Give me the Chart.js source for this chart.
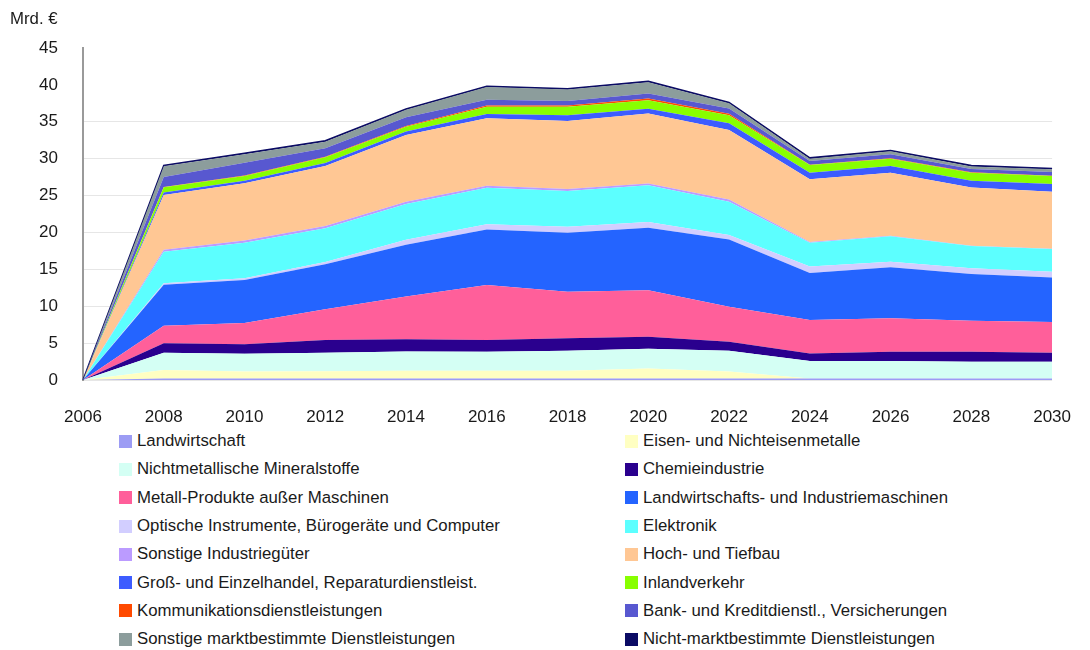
<!DOCTYPE html>
<html>
<head>
<meta charset="utf-8">
<script src="https://cdn.jsdelivr.net/npm/chart.js@4.4.1/dist/chart.umd.min.js"></script>
<style>
  body { margin: 0; background: #fff; font-family: "Liberation Sans", Arial, sans-serif; }
  #wrap { position: relative; width: 1090px; height: 650px; }
  #box { position: absolute; left: 0; top: 0; width: 1090px; height: 425px; }
  #legend { position: absolute; left: 119px; top: 427px; display: grid;
            grid-template-columns: 506px 440px; grid-auto-rows: 28.3px; }
  .item { display: flex; align-items: center; font-size: 16.8px; color: #1a1a1a; white-space: nowrap; }
  .sw { width: 13px; height: 13px; margin-right: 5px; flex: none; }
</style>
</head>
<body>
<div id="wrap">
  <div id="box"><canvas id="myChart"></canvas></div>
  <div id="legend"></div>
</div>
<script>
// Jahre
const years = ['2006','2008','2010','2012','2014','2016','2018','2020','2022','2024','2026','2028','2030'];

// Werte in Mrd. € je Sektor (gestapelt, von unten nach oben)
const landwirtschaft = [0, 0.2, 0.2, 0.2, 0.2, 0.2, 0.2, 0.2, 0.2, 0.2, 0.2, 0.2, 0.2];
const eisen          = [0, 1.15, 0.95, 1.0, 1.05, 1.07, 1.07, 1.35, 0.95, 0, 0, 0, 0];
const nichtmetall    = [0, 2.35, 2.4, 2.5, 2.6, 2.57, 2.7, 2.7, 2.8, 2.37, 2.37, 2.28, 2.28];
const chemie         = [0, 1.27, 1.3, 1.72, 1.67, 1.58, 1.68, 1.6, 1.23, 1.03, 1.27, 1.36, 1.22];
const metall         = [0, 2.39, 2.87, 4.16, 5.8, 7.46, 6.32, 6.32, 4.74, 4.53, 4.52, 4.2, 4.16];
const maschinen      = [0, 5.54, 5.83, 6.12, 7.0, 7.52, 8.0, 8.45, 9.13, 6.37, 6.91, 6.33, 6.04];
const optische       = [0, 0.2, 0.25, 0.3, 0.7, 0.7, 0.8, 0.8, 0.6, 0.9, 0.77, 0.77, 0.78];
const elektronik     = [0, 4.3, 4.8, 4.56, 4.85, 4.97, 4.86, 4.97, 4.52, 3.2, 3.46, 3.02, 3.07];
const sonstInd       = [0, 0.25, 0.3, 0.3, 0.3, 0.25, 0.25, 0.25, 0.3, 0.1, 0.05, 0.05, 0.05];
const hochbau        = [0, 7.42, 7.76, 8.14, 9.05, 9.15, 9.24, 9.47, 9.43, 8.5, 8.55, 7.89, 7.7];
const handel         = [0, 0.35, 0.35, 0.4, 0.45, 0.58, 0.75, 0.65, 0.9, 0.9, 0.9, 0.9, 1.06];
const verkehr        = [0, 0.7, 0.65, 0.8, 0.65, 1.0, 1.15, 1.15, 1.1, 1.04, 1.0, 1.1, 1.09];
const kommunikation  = [0, 0.05, 0.05, 0.05, 0.1, 0.15, 0.2, 0.25, 0.2, 0.05, 0.05, 0.05, 0.05];
const bank           = [0, 1.35, 1.75, 1.15, 1.2, 0.8, 0.6, 0.66, 0.7, 0.5, 0.55, 0.45, 0.5];
const sonstMarkt     = [0, 1.45, 1.15, 0.9, 1.0, 1.7, 1.54, 1.54, 0.7, 0.3, 0.4, 0.35, 0.35];
const nichtMarkt     = [0, 0.12, 0.12, 0.12, 0.12, 0.12, 0.12, 0.12, 0.12, 0.12, 0.12, 0.12, 0.12];

const series = [
  ['Landwirtschaft', landwirtschaft, '#9c9cf4'],
  ['Eisen- und Nichteisenmetalle', eisen, '#ffffc2'],
  ['Nichtmetallische Mineralstoffe', nichtmetall, '#d4fff4'],
  ['Chemieindustrie', chemie, '#2a008e'],
  ['Metall-Produkte außer Maschinen', metall, '#ff5f9a'],
  ['Landwirtschafts- und Industriemaschinen', maschinen, '#2464ff'],
  ['Optische Instrumente, Bürogeräte und Computer', optische, '#d2ceff'],
  ['Elektronik', elektronik, '#5cffff'],
  ['Sonstige Industriegüter', sonstInd, '#bb9bff'],
  ['Hoch- und Tiefbau', hochbau, '#ffc794'],
  ['Groß- und Einzelhandel, Reparaturdienstleist.', handel, '#3d5cff'],
  ['Inlandverkehr', verkehr, '#88ff00'],
  ['Kommunikationsdienstleistungen', kommunikation, '#ff4a00'],
  ['Bank- und Kreditdienstl., Versicherungen', bank, '#5858d0'],
  ['Sonstige marktbestimmte Dienstleistungen', sonstMarkt, '#8c9d9c'],
  ['Nicht-marktbestimmte Dienstleistungen', nichtMarkt, '#0b0b64']
];

const datasets = series.map((s, i) => ({
  label: s[0],
  data: s[1],
  backgroundColor: s[2],
  borderColor: s[2],
  borderWidth: i === series.length - 1 ? 1.5 : 0,
  fill: i === 0 ? 'origin' : '-1',
  pointRadius: 0,
  tension: 0
}));

// "Mrd. €" oben links
const unitLabel = {
  id: 'unitLabel',
  afterDraw(chart) {
    const ctx = chart.ctx;
    ctx.save();
    ctx.font = '16.8px "Liberation Sans", Arial, sans-serif';
    ctx.fillStyle = '#1a1a1a';
    ctx.textBaseline = 'middle';
    ctx.fillText('Mrd. €', 10, 19);
    ctx.restore();
  }
};

const tickFont = { size: 17, family: '"Liberation Sans", Arial' };

const chart = new Chart(document.getElementById('myChart'), {
  type: 'line',
  data: { labels: years, datasets: datasets },
  options: {
    responsive: true,
    maintainAspectRatio: false,
    animation: false,
    layout: { padding: { top: 48, right: 18, left: 0, bottom: 0 } },
    plugins: { legend: { display: false }, tooltip: { enabled: false } },
    scales: {
      x: {
        grid: { display: false },
        border: { display: false },
        ticks: { color: '#1a1a1a', font: tickFont, padding: 19, maxRotation: 0 },
        afterFit: s => { s.height = 45; }
      },
      y: {
        stacked: true,
        min: 0,
        max: 45,
        ticks: { stepSize: 5, color: '#1a1a1a', font: tickFont, padding: 25 },
        grid: {
          drawTicks: false,
          color: c => c.tick.value <= 35 ? '#e6e6e6' : 'rgba(0,0,0,0)'
        },
        border: { display: true, color: '#9a9a9a', width: 2 },
        afterFit: s => { s.width = 83; }
      }
    }
  },
  plugins: [unitLabel]
});

// Legende in zwei Spalten
const legend = document.getElementById('legend');
chart.data.datasets.forEach(ds => {
  const item = document.createElement('div');
  item.className = 'item';
  const sw = document.createElement('span');
  sw.className = 'sw';
  sw.style.background = ds.backgroundColor;
  item.appendChild(sw);
  item.appendChild(document.createTextNode(ds.label));
  legend.appendChild(item);
});
</script>
</body>
</html>
